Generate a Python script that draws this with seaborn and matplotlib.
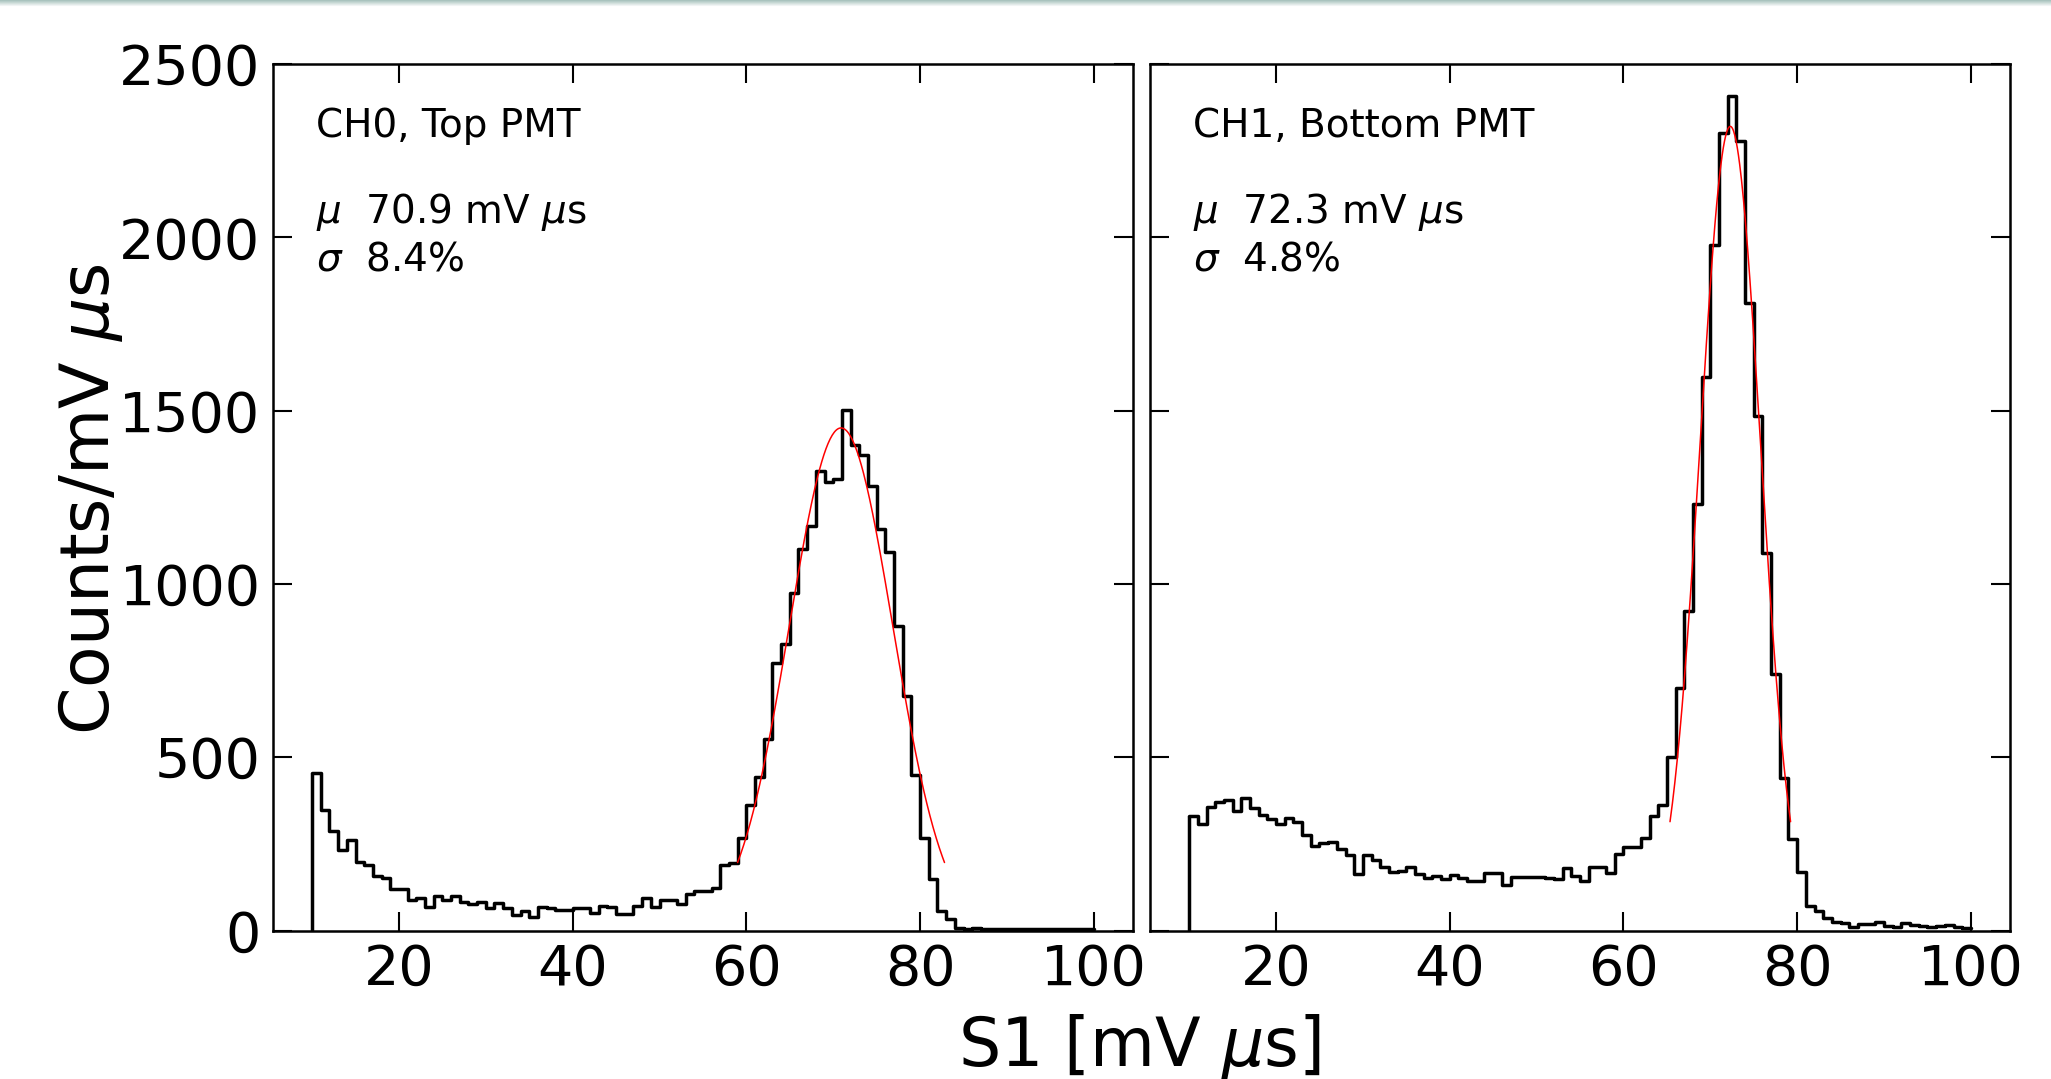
import numpy as np
import pandas as pd
import matplotlib
matplotlib.use("Agg")
import matplotlib.pyplot as plt
from matplotlib.colors import LinearSegmentedColormap
import seaborn as sns

# histogram binning: 1 mV us wide bins from 10 to 100
bin_lo = 10
bin_hi = 100
bin_width = 1

# counts per bin (bins 10..99)
counts_ch0 = [455, 347, 288, 231, 261, 199, 188, 157, 151, 121,
              121, 88, 95, 67, 100, 88, 100, 81, 76, 81,
              65, 78, 64, 45, 57, 39, 67, 65, 60, 60,
              64, 65, 50, 72, 67, 47, 49, 72, 93, 69,
              88, 88, 76, 106, 114, 114, 122, 190, 195, 266,
              362, 442, 554, 771, 828, 973, 1100, 1168, 1327, 1294,
              1304, 1501, 1401, 1372, 1282, 1157, 1092, 878, 678, 448,
              267, 148, 57, 34, 8, 5, 6, 5, 5, 4,
              5, 4, 4, 5, 4, 3, 4, 3, 3, 3]
counts_ch1 = [329, 306, 355, 370, 378, 345, 383, 353, 334, 321,
              306, 326, 314, 277, 244, 252, 256, 236, 217, 163,
              217, 204, 182, 168, 171, 184, 163, 151, 158, 150,
              160, 151, 142, 142, 166, 166, 130, 153, 155, 155,
              153, 152, 150, 180, 158, 142, 184, 184, 165, 222,
              240, 241, 268, 329, 363, 500, 700, 923, 1230, 1596,
              1979, 2300, 2407, 2277, 1811, 1485, 1088, 741, 440, 265,
              170, 72, 57, 35, 24, 22, 10, 19, 19, 24,
              14, 10, 22, 17, 12, 10, 14, 17, 10, 7]

# gaussian fit results shown in each panel
channel_names = ["CH0, Top PMT", "CH1, Bottom PMT"]
fit_mu = [70.9, 72.3]
fit_sigma_pct = [8.4, 4.8]
fit_amp = [1450, 2320]

x_ticks = [20, 40, 60, 80, 100]
y_ticks = [0, 500, 1000, 1500, 2000, 2500]

sns.set_style("ticks")
plt.rcParams["font.family"] = ["DejaVu Sans"]
plt.rcParams["mathtext.fontset"] = "dejavusans"
plt.rcParams["text.color"] = "black"
plt.rcParams["axes.labelcolor"] = "black"

fig, axes = plt.subplots(1, 2, figsize=(20.51, 10.79), dpi=100, sharey=True)
fig.subplots_adjust(left=0.1331, right=0.980, bottom=0.1376, top=0.9407, wspace=0.02)

edges = np.arange(bin_lo, bin_hi + bin_width, bin_width)
centers = edges[:-1] + bin_width / 2

for i, (ax, counts) in enumerate(zip(axes, [counts_ch0, counts_ch1])):
    df = pd.DataFrame({"s1": centers, "n": counts})
    sns.histplot(data=df, x="s1", weights="n", binwidth=bin_width,
                 binrange=(bin_lo, bin_hi), element="step",
                 fill=False, color="black", linewidth=2.5, ax=ax)
    # left edge of the step histogram
    ax.vlines(edges[0], 0, counts[0], color="black", linewidth=2.5)

    # gaussian fit drawn over mu +- 2 sigma
    mu = fit_mu[i]
    sig = mu * fit_sigma_pct[i] / 100
    xf = np.linspace(mu - 2 * sig, mu + 2 * sig, 200)
    yf = fit_amp[i] * np.exp(-0.5 * ((xf - mu) / sig) ** 2)
    sns.lineplot(x=xf, y=yf, color="red", linewidth=1.1, ax=ax)

    ax.set_xlim(5.5, 104.5)
    ax.set_ylim(0, 2500)
    ax.set_xticks(x_ticks)
    ax.set_yticks(y_ticks)
    ax.set_xlabel("")
    ax.set_ylabel("")
    ax.tick_params(direction="in", length=14, width=1.5, labelsize=40,
                   top=True, right=True, pad=9, colors="black")
    for sp in ax.spines.values():
        sp.set_linewidth(1.8)
        sp.set_color("black")

    ax.text(0.050, 0.916, channel_names[i], transform=ax.transAxes,
            fontsize=28, va="baseline")
    ax.text(0.050, 0.816, rf"$\mu$  {fit_mu[i]} mV $\mu$s",
            transform=ax.transAxes, fontsize=28, va="baseline")
    ax.text(0.050, 0.762, rf"$\sigma$  {fit_sigma_pct[i]}%",
            transform=ax.transAxes, fontsize=28, va="baseline")

fig.text(0.5555, 0.012, r"S1 [mV $\mu$s]", fontsize=48, ha="center", va="baseline")
fig.text(0.044, 0.5375, r"Counts/mV $\mu$s", fontsize=49, rotation=90,
         ha="center", va="center")

# thin shaded strip along the top edge
strip = fig.add_axes([0, 1 - 7 / 1079, 1, 7 / 1079])
strip.imshow(np.linspace(0, 1, 8).reshape(-1, 1), aspect="auto",
             cmap=LinearSegmentedColormap.from_list("strip", ["#a9c3be", "white"]))
strip.axis("off")

fig.savefig("out.png", dpi=100)
